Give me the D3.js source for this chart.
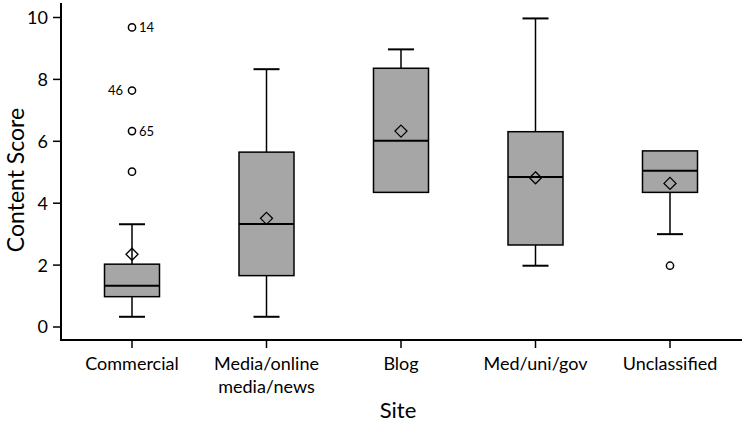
<!DOCTYPE html>
<html>
<head>
<meta charset="utf-8">
<script src="https://cdn.jsdelivr.net/npm/d3@7"></script>
<style>
  body { margin: 0; background: #fff; }
  svg { display: block; font-family: Lato, "Open Sans", sans-serif; }
</style>
</head>
<body>
<div id="chart"></div>
<script>
// categories and box stats
var sites = ["Commercial", "Media/online\nmedia/news", "Blog", "Med/uni/gov", "Unclassified"];
var whiskerLow  = [0.33, 0.33, 4.35, 1.98, 3.0];
var q1          = [0.98, 1.66, 4.35, 2.65, 4.35];
var median      = [1.33, 3.33, 6.02, 4.85, 5.05];
var q3          = [2.03, 5.65, 8.36, 6.31, 5.69];
var whiskerHigh = [3.32, 8.33, 8.97, 9.97, 5.69];
var means       = [2.35, 3.51, 6.33, 4.82, 4.64];
// outliers: [site index, value, case label]
var outliers = [
  [0, 9.68, "14"], [0, 7.64, "46"], [0, 6.33, "65"], [0, 5.02, ""],
  [4, 1.98, ""]
];
var yTicks = [0, 2, 4, 6, 8, 10];

var W = 742, H = 422;
var svg = d3.select("#chart").append("svg").attr("width", W).attr("height", H);

var x = d3.scalePoint().domain(d3.range(sites.length)).range([64.75, 737.25]).padding(0.5);
var y = d3.scaleLinear().domain([0, 10]).range([327, 17.5]);
var boxW = 55, capW = 26;

// axes lines
svg.append("line").attr("x1", 61).attr("x2", 61).attr("y1", 3).attr("y2", 341)
  .attr("stroke", "#000").attr("stroke-width", 2);
svg.append("line").attr("x1", 60).attr("x2", 742).attr("y1", 340).attr("y2", 340)
  .attr("stroke", "#000").attr("stroke-width", 2);

// y ticks
var yAxis = svg.append("g");
yTicks.forEach(function(t){
  yAxis.append("line").attr("x1", 53).attr("x2", 61).attr("y1", y(t)).attr("y2", y(t))
    .attr("stroke", "#000").attr("stroke-width", 1.5);
  yAxis.append("text").attr("x", 48).attr("y", y(t)).attr("dy", "0.36em")
    .attr("text-anchor", "end").attr("font-size", 18).text(t);
});

// x ticks and labels
sites.forEach(function(s, i){
  svg.append("line").attr("x1", x(i)).attr("x2", x(i)).attr("y1", 340).attr("y2", 348)
    .attr("stroke", "#000").attr("stroke-width", 1.5);
  var lines = s.split("\n");
  lines.forEach(function(l, j){
    svg.append("text").attr("x", x(i)).attr("y", 370 + j * 23)
      .attr("text-anchor", "middle").attr("font-size", 18).text(l);
  });
});

// titles
svg.append("text").attr("x", 398).attr("y", 418).attr("text-anchor", "middle")
  .attr("font-size", 22).text("Site");
svg.append("text").attr("transform", "translate(24,180) rotate(-90)")
  .attr("text-anchor", "middle").attr("font-size", 23).text("Content Score");

// boxes
var g = svg.append("g");
sites.forEach(function(s, i){
  var cx = x(i);
  // whiskers
  if (whiskerHigh[i] > q3[i]) {
    g.append("line").attr("x1", cx).attr("x2", cx).attr("y1", y(q3[i])).attr("y2", y(whiskerHigh[i]))
      .attr("stroke", "#000").attr("stroke-width", 1.5);
    g.append("line").attr("x1", cx - capW / 2).attr("x2", cx + capW / 2)
      .attr("y1", y(whiskerHigh[i])).attr("y2", y(whiskerHigh[i]))
      .attr("stroke", "#000").attr("stroke-width", 2);
  }
  if (whiskerLow[i] < q1[i]) {
    g.append("line").attr("x1", cx).attr("x2", cx).attr("y1", y(q1[i])).attr("y2", y(whiskerLow[i]))
      .attr("stroke", "#000").attr("stroke-width", 1.5);
    g.append("line").attr("x1", cx - capW / 2).attr("x2", cx + capW / 2)
      .attr("y1", y(whiskerLow[i])).attr("y2", y(whiskerLow[i]))
      .attr("stroke", "#000").attr("stroke-width", 2);
  }
  g.append("rect").attr("x", cx - boxW / 2).attr("width", boxW)
    .attr("y", y(q3[i])).attr("height", y(q1[i]) - y(q3[i]))
    .attr("fill", "#a6a6a6").attr("stroke", "#000").attr("stroke-width", 1.5);
  g.append("line").attr("x1", cx - boxW / 2).attr("x2", cx + boxW / 2)
    .attr("y1", y(median[i])).attr("y2", y(median[i]))
    .attr("stroke", "#000").attr("stroke-width", 2);
  // mean diamond
  var my = y(means[i]), d = 6;
  g.append("path")
    .attr("d", "M" + cx + "," + (my - d) + "L" + (cx + d) + "," + my + "L" + cx + "," + (my + d) + "L" + (cx - d) + "," + my + "Z")
    .attr("fill", "none").attr("stroke", "#000").attr("stroke-width", 1.3);
});

// outliers
outliers.forEach(function(o){
  var cx = x(o[0]), cy = y(o[1]);
  g.append("circle").attr("cx", cx).attr("cy", cy).attr("r", 3.6)
    .attr("fill", "#fff").attr("stroke", "#000").attr("stroke-width", 1.5);
  if (o[2]) {
    var left = o[2] === "46";
    g.append("text").attr("x", left ? cx - 9 : cx + 7).attr("y", cy).attr("dy", "0.36em")
      .attr("text-anchor", left ? "end" : "start").attr("font-size", 13).text(o[2]);
  }
});
</script>
</body>
</html>
